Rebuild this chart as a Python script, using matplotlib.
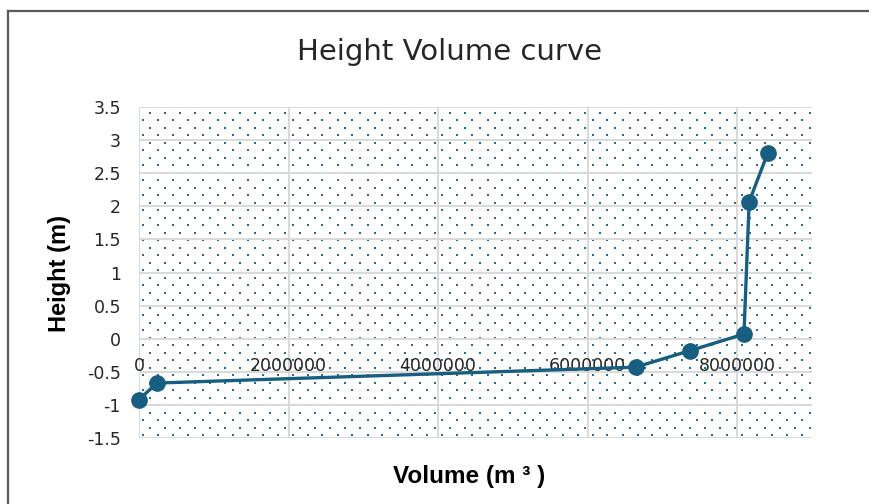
import numpy as np
import matplotlib
matplotlib.use("Agg")
import matplotlib.pyplot as plt
from matplotlib.lines import Line2D

# ── Data ──────────────────────────────────────────────────────────────────────
volume = [0, 240000, 6640000, 7370000, 8090000, 8160000, 8410000]
height = [-0.92, -0.67, -0.43, -0.18, 0.07, 2.07, 2.81]

x_ticks = [0, 2000000, 4000000, 6000000, 8000000]
y_ticks = [-1.5, -1, -0.5, 0, 0.5, 1, 1.5, 2, 2.5, 3, 3.5]

LINE_COL = "#175e80"
DOT_COL  = "#2b6c8e"
GRID_COL = "#d9d9d9"
TEXT_COL = "#262626"

plt.rcParams["font.family"] = ["DejaVu Sans"]

fig = plt.figure(figsize=(8.70, 5.04), dpi=100)
ax = fig.add_axes([139 / 870, 66 / 504, 673 / 870, 331 / 504])

ax.set_xlim(0, 9000000)
ax.set_ylim(-1.5, 3.5)

# ── Dotted pattern fill of the plot area (Excel "dotted" fill) ───────────────
w_px, h_px = 673, 331
rows = np.arange(0, h_px, 7.5)
px, py = [], []
for i, r in enumerate(rows):
    cols = np.arange(3.5 + (7.5 if i % 2 else 0), w_px, 15)
    px.extend(cols)
    py.extend([r + 3] * len(cols))
ax.scatter(np.array(px) / w_px, np.array(py) / h_px, s=2.8, color=DOT_COL,
           marker="s", linewidths=0, transform=ax.transAxes, zorder=0.5)

# ── Grid ─────────────────────────────────────────────────────────────────────
ax.set_xticks(x_ticks)
ax.set_yticks(y_ticks)
ax.grid(True, color=GRID_COL, lw=1.4, zorder=1)
ax.set_axisbelow(True)
for s in ["top", "right", "left"]:
    ax.spines[s].set_visible(False)
ax.spines["bottom"].set_position(("data", 0))
ax.spines["bottom"].set_visible(False)

ax.set_xticklabels([str(v) for v in x_ticks])
ax.set_yticklabels([f"{v:g}" for v in y_ticks])
ax.tick_params(axis="x", length=0, pad=13, labelsize=12.5, labelcolor=TEXT_COL)
ax.tick_params(axis="y", length=0, pad=13, labelsize=12.5, labelcolor=TEXT_COL)

# ── Series ───────────────────────────────────────────────────────────────────
ax.plot(volume, height, color=LINE_COL, lw=2.4, marker="o", ms=11,
        zorder=3, clip_on=False)

# ── Labels ───────────────────────────────────────────────────────────────────
fig.text(450 / 870, 1 - 52 / 504, "Height Volume curve", ha="center", va="center",
         fontsize=21, color=TEXT_COL)
fig.text(60 / 870, 1 - 274 / 504, "Height (m)", rotation=90, ha="center",
         va="center", fontsize=17, fontweight="bold", family="Liberation Sans",
         color="black")
fig.text(469 / 870, 1 - 477 / 504, "Volume (m ³ )", ha="center", va="center",
         fontsize=17.5, fontweight="bold", family="Liberation Sans", color="black")

# ── Chart border ─────────────────────────────────────────────────────────────
bx, by = 8.5 / 870, 1 - 10.5 / 504
fig.add_artist(Line2D([bx, bx], [0, by], transform=fig.transFigure,
                      color="#595959", lw=1.6))
fig.add_artist(Line2D([bx, 1], [by, by], transform=fig.transFigure,
                      color="#595959", lw=1.6))

fig.savefig("out.png", dpi=100)
